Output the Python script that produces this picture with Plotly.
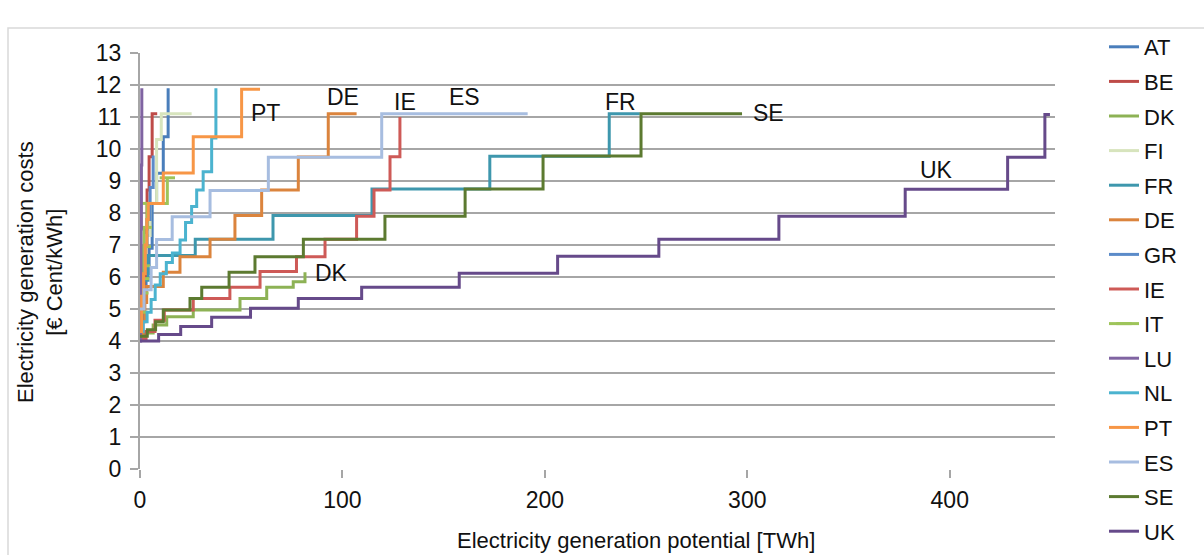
import plotly.graph_objects as go

# ---- data: cumulative potential [TWh] (step starts) and generation costs [€ Cent/kWh]
countries = ["AT", "BE", "DK", "FI", "FR", "DE", "GR", "IE", "IT", "LU", "NL", "PT", "ES", "SE", "UK"]

AT_x = [0, 1.5, 3, 4.5, 6, 8.2, 11.5, 13.9]
AT_y = [4.2, 5.2, 6.1, 6.9, 8.3, 9.24, 10.38, 11.9]

BE_x = [0, 1, 2, 3, 3.5, 4.5, 6, 8.5]
BE_y = [4.1, 5.0, 6.0, 7.5, 8.72, 9.76, 11.1, 11.1]

DK_x = [0, 2, 6.5, 13.2, 26.3, 49.4, 62.6, 75.7, 81.5]
DK_y = [4.05, 4.25, 4.5, 4.76, 4.97, 5.33, 5.68, 5.85, 6.15]

FI_x = [0, 1.5, 3, 5, 8.2, 10.5, 25.5]
FI_y = [5.6, 6.4, 7.3, 8.3, 10.3, 11.1, 11.1]

FR_x = [0, 1.5, 4.0, 27.3, 65.7, 114.6, 172.8, 231.8, 246.9]
FR_y = [5.2, 5.9, 6.67, 7.18, 7.92, 8.75, 9.77, 11.1, 11.1]

DE_x = [0, 1.2, 2.4, 3.3, 11.5, 19.75, 34.6, 46.9, 60.1, 78.2, 93.0, 107]
DE_y = [4.1, 4.6, 5.2, 5.7, 6.15, 6.63, 7.18, 7.92, 8.72, 9.75, 11.1, 11.1]

GR_x = [0, 0.8, 1.6, 2.5, 3.5, 5, 6.5]
GR_y = [4.6, 5.4, 6.2, 7.0, 7.8, 8.8, 9.8]

IE_x = [0, 3, 7.4, 12, 26.3, 44.4, 59.3, 77.3, 91.4, 107, 115.6, 123.5, 128.4]
IE_y = [4.05, 4.3, 4.65, 4.97, 5.33, 5.68, 6.17, 6.63, 7.18, 7.9, 8.72, 9.76, 11.0]

IT_x = [0, 0.4, 0.8, 1.2, 1.6, 2.0, 3.5, 13.5]
IT_y = [4.9, 5.5, 5.95, 6.35, 6.95, 7.55, 8.3, 9.1]

LU_x = [0, 0.3, 0.5, 0.7, 0.9]
LU_y = [4.0, 5.5, 7.5, 9.5, 11.9]

NL_x = [0, 1.5, 3.5, 5.5, 7.5, 10, 13, 16, 19.8, 22.5, 25.5, 28, 31.2, 35.4, 37.5]
NL_y = [4.3, 4.6, 4.9, 5.3, 5.75, 6.1, 6.45, 6.75, 7.16, 7.7, 8.2, 8.72, 9.29, 10.34, 11.9]

PT_x = [0, 0.8, 1.8, 2.6, 3.4, 4.1, 11.5, 26.3, 50.2, 59.3]
PT_y = [4.3, 5.4, 6.1, 7.0, 7.8, 8.3, 9.25, 10.38, 11.87, 11.87]

ES_x = [0, 2, 5.5, 8.2, 15.9, 34.6, 63.4, 119.4, 191.5]
ES_y = [5.0, 5.6, 6.3, 7.17, 7.88, 8.7, 9.74, 11.1, 11.1]

SE_x = [0, 3.6, 7.7, 11.5, 24.7, 30.5, 44, 56.8, 80.7, 121, 160.6, 199.1, 247.5, 297.4]
SE_y = [4.15, 4.35, 4.6, 4.97, 5.33, 5.68, 6.15, 6.63, 7.18, 7.9, 8.75, 9.78, 11.1, 11.1]

UK_x = [0, 9.2, 20.1, 35.4, 54.6, 78.2, 109.5, 157.7, 206.3, 256.3, 315.6, 378, 428.6, 447, 449.5]
UK_y = [4.0, 4.2, 4.45, 4.74, 5.02, 5.33, 5.68, 6.12, 6.65, 7.18, 7.9, 8.74, 9.74, 11.08, 11.08]

series = {
    "AT": (AT_x, AT_y), "BE": (BE_x, BE_y), "DK": (DK_x, DK_y), "FI": (FI_x, FI_y),
    "FR": (FR_x, FR_y), "DE": (DE_x, DE_y), "GR": (GR_x, GR_y), "IE": (IE_x, IE_y),
    "IT": (IT_x, IT_y), "LU": (LU_x, LU_y), "NL": (NL_x, NL_y), "PT": (PT_x, PT_y),
    "ES": (ES_x, ES_y), "SE": (SE_x, SE_y), "UK": (UK_x, UK_y),
}

# in-chart labels (text, x, y in data units)
label_text = ["PT", "DE", "IE", "ES", "FR", "SE", "UK", "DK"]
label_x = [61.8, 100.3, 130.9, 160.1, 237.2, 310.3, 393.3, 94.4]
label_y = [11.11, 11.64, 11.47, 11.63, 11.47, 11.11, 9.34, 6.12]

x_ticks = [0, 100, 200, 300, 400]
y_ticks = list(range(0, 14))

# ---- styling
colors = {
    "AT": "#4A7EBB", "BE": "#BE4B48", "DK": "#8DB255", "FI": "#D7E4BD", "FR": "#3E97AD",
    "DE": "#DB843D", "GR": "#5B8BC9", "IE": "#CE5A57", "IT": "#9EC45A", "LU": "#8064A2",
    "NL": "#4BB3CF", "PT": "#F79646", "ES": "#A7BDE0", "SE": "#5C7A30", "UK": "#664A8A",
}
FONT = "Liberation Sans, Arial, sans-serif"
GRID = "#A6A6A6"

fig = go.Figure()
for name in countries:
    xs, ys = series[name]
    kw = {}
    mode = "lines"
    if name == "IT":
        mode = "lines+markers"
        kw["marker"] = dict(symbol="line-ew", size=11, line=dict(width=3, color=colors[name]))
    fig.add_trace(go.Scatter(
        x=xs, y=ys, name=name, mode=mode, legendgroup=name,
        line=dict(color=colors[name], width=3, shape="hv"), **kw))

for t, lx, ly in zip(label_text, label_x, label_y):
    fig.add_annotation(x=lx, y=ly, text=t, showarrow=False, xref="x", yref="y",
                       font=dict(family=FONT, size=23, color="#111111"))

# axis titles as annotations
fig.add_annotation(xref="paper", yref="paper", x=(40 - 140) / 915, y=(469 - 272) / 416,
                   xanchor="center", yanchor="middle",
                   text="Electricity generation costs<br>[€ Cent/kWh]", textangle=-90,
                   showarrow=False, font=dict(family=FONT, size=22, color="#111111"))
fig.add_annotation(xref="paper", yref="paper", x=(636 - 140) / 915, y=(469 - 555) / 416,
                   xanchor="center", yanchor="bottom", text="Electricity generation potential [TWh]",
                   showarrow=False, font=dict(family=FONT, size=22, color="#111111"))

# outer chart frame
fig.add_shape(type="rect", xref="paper", yref="paper",
              x0=(8 - 140) / 915, x1=(1230 - 140) / 915,
              y0=(469 - 600) / 416, y1=(469 - 28) / 416,
              line=dict(color="#D9D9D9", width=1.5), fillcolor="rgba(0,0,0,0)", layer="below")

fig.update_layout(
    width=1204, height=555, autosize=False,
    margin=dict(l=140, r=149, t=53, b=86, pad=0),
    paper_bgcolor="white", plot_bgcolor="white",
    font=dict(family=FONT, size=23, color="#111111"),
    showlegend=True,
    legend=dict(x=(1104 - 140) / 915, xanchor="left", y=(469 - 26) / 416, yanchor="top",
                font=dict(family=FONT, size=22, color="#111111"),
                traceorder="grouped", tracegroupgap=3, bgcolor="rgba(0,0,0,0)",
                itemwidth=30, maxheight=560),
    xaxis=dict(range=[0, 452], tickvals=x_ticks, showgrid=False, zeroline=False,
               showline=False, ticks="outside", ticklen=8, tickwidth=2, tickcolor=GRID,
               tickfont=dict(family=FONT, size=23), ticklabelstandoff=2),
    yaxis=dict(range=[0, 13], tickvals=y_ticks, showgrid=True, gridcolor=GRID, gridwidth=2,
               zeroline=False, showline=True, linecolor=GRID, linewidth=2,
               ticks="outside", ticklen=8, tickwidth=2, tickcolor=GRID,
               tickfont=dict(family=FONT, size=23), ticklabelstandoff=4),
)

fig.write_html("out.html", config={"displayModeBar": False},
               post_script="document.body.style.margin='0';")
